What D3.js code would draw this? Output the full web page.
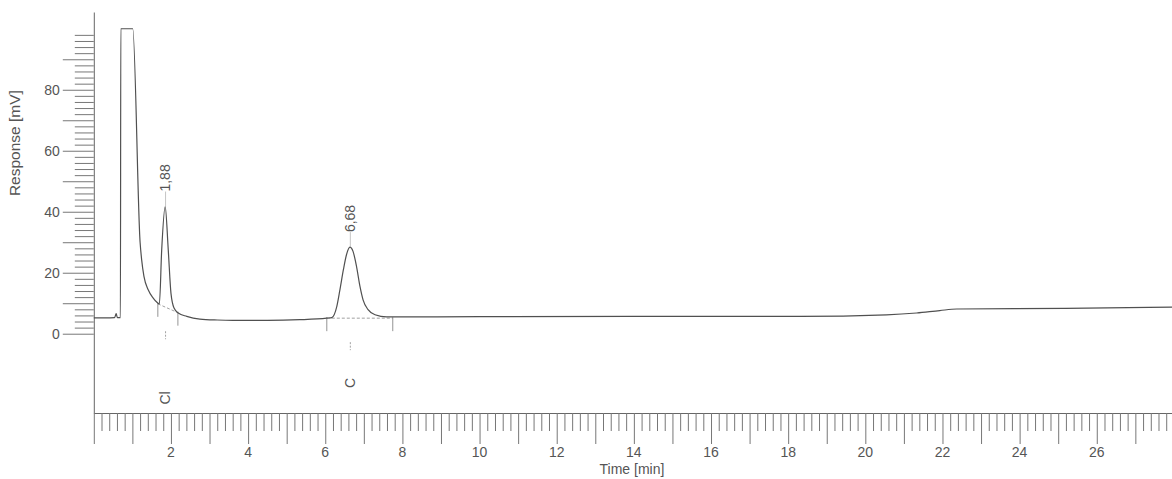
<!DOCTYPE html>
<html><head><meta charset="utf-8">
<script src="https://cdn.jsdelivr.net/npm/d3@7"></script>
<style>
body{margin:0;background:#fff}
svg text{font-family:"Liberation Sans",Arial,sans-serif;fill:#555}
</style>
</head><body><svg id="c" width="1172" height="479"></svg>
<script>
// ---- data ----
const times = [0.00,0.30,0.54,0.58,0.61,0.69,0.70,1.01,1.20,1.24,1.30,1.41,1.54,1.63,1.70,1.76,1.85,1.93,2.00,2.08,2.19,2.41,2.75,3.20,3.60,4.50,5.34,6.04,6.17,6.30,6.38,6.47,6.55,6.64,6.72,6.81,6.90,6.98,7.11,7.29,7.59,8.20,10.0,14.0,18.3,20.55,21.33,21.93,22.37,25.2,27.95];
const response = [5.2,5.2,5.3,6.6,5.3,5.3,100,100,30.0,24.3,18.8,14.4,11.7,10.4,9.8,27.5,41.7,27.5,13.3,8.4,6.8,5.7,4.8,4.5,4.4,4.4,4.6,5.1,5.3,9.0,14.4,21.0,25.9,28.4,27.0,22.1,15.5,11.1,7.9,6.2,5.5,5.5,5.6,5.7,5.7,6.2,6.8,7.6,8.1,8.3,8.75];
const peakLabels = ["1,88","6,68"];
const compoundNames = ["Cl","C"];
const peakApexTimes = [1.86, 6.65];
const peakApexValues = [41.7, 28.4];
const peakStartTimes = [1.66, 6.04];
const peakStartValues = [9.8, 5.1];
const peakEndTimes = [2.18, 7.75];
const peakEndValues = [6.9, 5.1];
const xTickLabels = [2,4,6,8,10,12,14,16,18,20,22,24,26];
const yTickLabels = [0,20,40,60,80];
const xTitle = "Time [min]";
const yTitle = "Response [mV]";

// ---- layout ----
const svg = d3.select("#c");
const x = d3.scaleLinear().domain([0, 27.95]).range([93.8, 1172]);
const y = d3.scaleLinear().domain([-26, 105.5]).range([413, 12]);
const axisColor = "#666", traceColor = "#505050";

// Y axis
const yAxis = d3.axisLeft(y)
  .tickValues(d3.range(0, 50).map(i => i * 2))
  .tickSize(19).tickSizeOuter(0)
  .tickFormat(d => yTickLabels.includes(d) ? d : "");
const gy = svg.append("g").attr("transform", `translate(${x(0)},0)`).call(yAxis);
gy.select(".domain").attr("stroke", axisColor);
gy.selectAll(".tick line").attr("stroke", "#777")
  .attr("x2", d => d % 10 === 0 ? -31 : -19);
gy.selectAll(".tick text").attr("x", -34).attr("font-size", 14)
  .attr("font-family", "Liberation Sans, Arial, sans-serif").attr("fill", "#555");

// X axis
const xAxis = d3.axisBottom(x)
  .tickValues(d3.range(0, 140).map(i => i / 5))
  .tickSize(18).tickSizeOuter(0)
  .tickFormat("");
const gx = svg.append("g").attr("transform", `translate(0,${y(-26)})`).call(xAxis);
gx.select(".domain").attr("stroke", axisColor);
gx.selectAll(".tick line").attr("stroke", "#777")
  .attr("y2", d => Math.abs(d - Math.round(d)) < 1e-6 ? 31 : 18);
svg.append("g").selectAll("text").data(xTickLabels).join("text")
  .attr("x", d => x(d)).attr("y", 457).attr("text-anchor", "middle")
  .attr("font-size", 14).text(d => d);
svg.append("text").attr("x", x(13.95)).attr("y", 474).attr("text-anchor", "middle")
  .attr("font-size", 14).text(xTitle);
svg.append("text").attr("transform", `translate(20,${y(62.5)}) rotate(-90)`)
  .attr("text-anchor", "middle").attr("font-size", 15.5).text(yTitle);

// integration baselines (dashed)
const pk = d3.range(peakLabels.length);
svg.append("g").selectAll("line").data(pk).join("line")
  .attr("x1", i => x(peakStartTimes[i])).attr("y1", i => y(peakStartValues[i]))
  .attr("x2", i => x(peakEndTimes[i])).attr("y2", i => y(peakEndValues[i]))
  .attr("stroke", "#888").attr("stroke-width", 0.8).attr("stroke-dasharray", "3,2");
// start/end ticks
const ev = pk.flatMap(i => [[peakStartTimes[i], peakStartValues[i]], [peakEndTimes[i], peakEndValues[i]]]);
svg.append("g").selectAll("line").data(ev).join("line")
  .attr("x1", d => x(d[0])).attr("x2", d => x(d[0]))
  .attr("y1", d => y(d[1]) - 1).attr("y2", d => y(d[1]) + 13)
  .attr("stroke", "#888").attr("stroke-width", 0.9);

// trace
const line = d3.line().x((d, i) => x(times[i])).y(d => y(d)).curve(d3.curveMonotoneX);
svg.append("path").attr("d", line(response)).attr("fill", "none")
  .attr("stroke", traceColor).attr("stroke-width", 1.2);

// peak markers below baseline
const baseAtApex = i => {
  const f = (peakApexTimes[i] - peakStartTimes[i]) / (peakEndTimes[i] - peakStartTimes[i]);
  return y(peakStartValues[i] + f * (peakEndValues[i] - peakStartValues[i]));
};
svg.append("g").selectAll("line").data(pk).join("line")
  .attr("x1", i => x(peakApexTimes[i])).attr("x2", i => x(peakApexTimes[i]))
  .attr("y1", i => baseAtApex(i) + 24).attr("y2", i => baseAtApex(i) + 32)
  .attr("stroke", "#999").attr("stroke-width", 0.9).attr("stroke-dasharray", "2,1.5");

// apex leader + retention label
svg.append("g").selectAll("line").data(pk).join("line")
  .attr("x1", i => x(peakApexTimes[i])).attr("x2", i => x(peakApexTimes[i]))
  .attr("y1", i => y(peakApexValues[i])).attr("y2", i => y(peakApexValues[i]) - 15)
  .attr("stroke", "#aaa").attr("stroke-width", 0.7);
svg.append("g").selectAll("text").data(pk).join("text")
  .attr("transform", i => `translate(${x(peakApexTimes[i]) + 4.5},${y(peakApexValues[i]) - 15}) rotate(-90)`)
  .attr("font-size", 14).text(i => peakLabels[i]);

// compound names
const nameY = [398, 383];
svg.append("g").selectAll("text").data(pk).join("text")
  .attr("transform", i => `translate(${x(peakApexTimes[i]) + 4.5},${nameY[i]}) rotate(-90)`)
  .attr("text-anchor", "middle").attr("font-size", 14).text(i => compoundNames[i]);
</script>
</body></html>
